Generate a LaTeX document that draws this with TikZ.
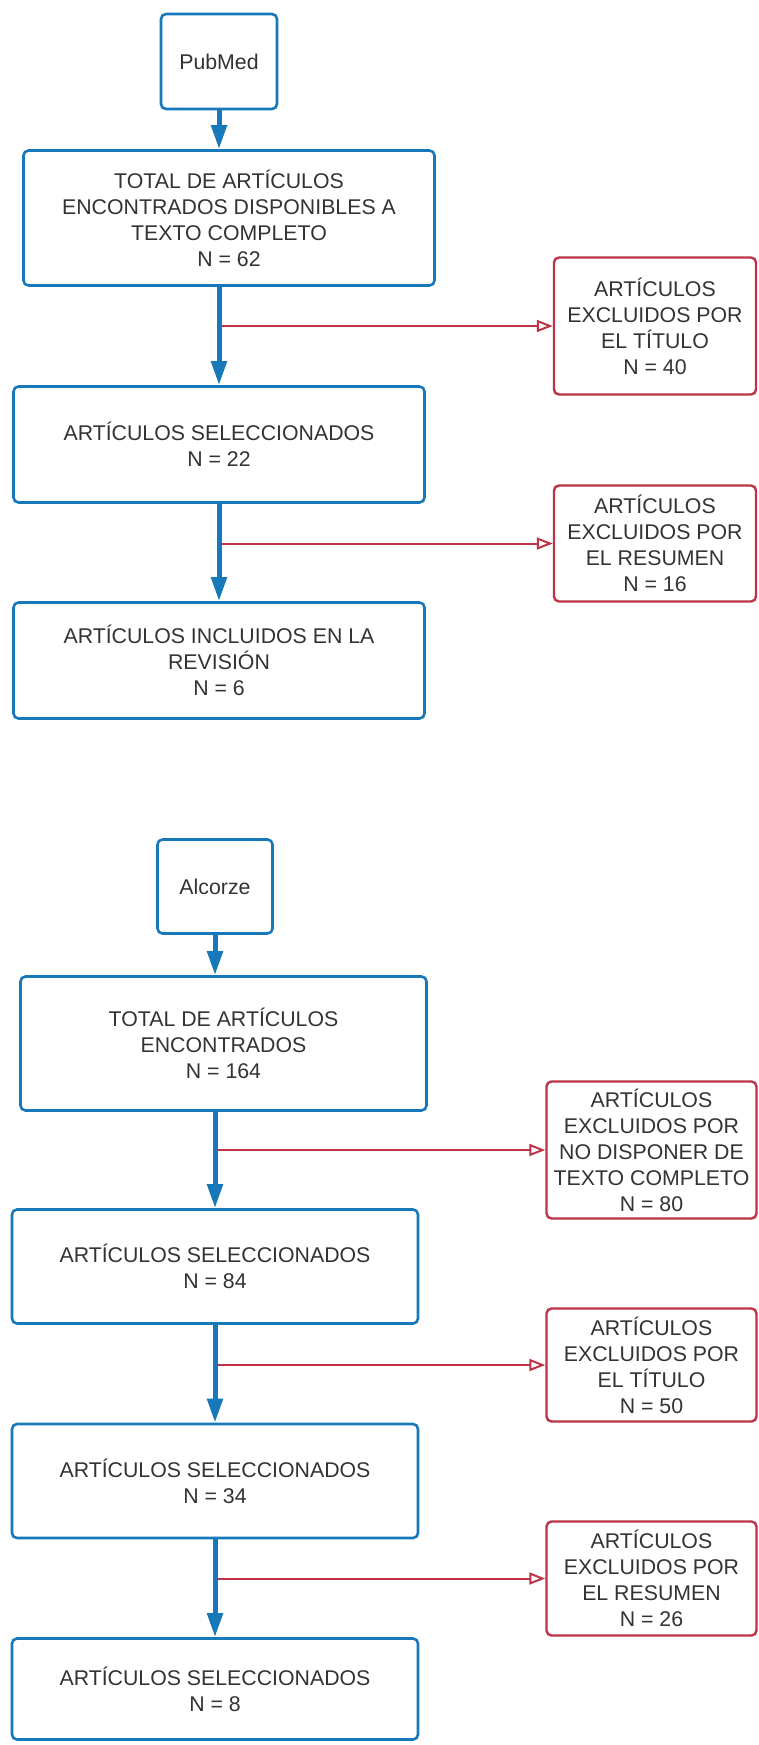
\documentclass[tikz,border=0pt]{standalone}
\usepackage{fontspec}
\setmainfont{Liberation Sans}
\usetikzlibrary{arrows.meta}

\definecolor{flowblue}{RGB}{24,121,186}
\definecolor{flowred}{RGB}{190,52,70}
\definecolor{flowtext}{RGB}{51,51,51}

\begin{document}
\begin{tikzpicture}[x=1pt, y=-1pt, line cap=round,
    font=\fontsize{21.3}{26}\selectfont,
    mainbox/.style={draw=flowblue, line width=2.6pt, rounded corners=5pt, align=center, text=flowtext, inner sep=2pt},
    outbox/.style={draw=flowred, line width=2.4pt, rounded corners=5pt, align=center, text=flowtext, inner sep=2pt},
    flow/.style={flowblue, line width=5pt, -{Triangle[length=24pt, width=15pt]}},
    drop/.style={flowred, line width=2pt, -{Triangle[open, length=16pt, width=12pt]}}]

    \fill[white] (0,0) rectangle (759,1745);
    \useasboundingbox (0,0) rectangle (759,1745);

    % PubMed
    \node[mainbox, minimum width=116pt, minimum height=95pt] (pubmed) at (219,61.5) {PubMed};
    \node[mainbox, minimum width=411pt, minimum height=135pt] (total1) at (229,218) {TOTAL DE ARTÍCULOS\\ENCONTRADOS DISPONIBLES A\\TEXTO COMPLETO\\N = 62};
    \node[outbox, minimum width=202pt, minimum height=137pt] (title1) at (655,326) {ARTÍCULOS\\EXCLUIDOS POR\\EL TÍTULO\\N = 40};
    \node[mainbox, minimum width=411pt, minimum height=116pt] (sel1) at (219,444.5) {ARTÍCULOS SELECCIONADOS\\N = 22};
    \node[outbox, minimum width=202pt, minimum height=116pt] (abstract1) at (655,543.5) {ARTÍCULOS\\EXCLUIDOS POR\\EL RESUMEN\\N = 16};
    \node[mainbox, minimum width=411pt, minimum height=116pt] (incl1) at (219,660.5) {ARTÍCULOS INCLUIDOS EN LA\\REVISIÓN\\N = 6};

    \draw[drop] (sel1.north |- title1.west) -- (title1.west);
    \draw[drop] (sel1.south |- abstract1.west) -- (abstract1.west);
    \draw[flow] (pubmed) -- (pubmed |- total1.north);
    \draw[flow] (sel1.north |- total1.south) -- (sel1.north);
    \draw[flow] (sel1) -- (incl1);

    % Alcorze
    \node[mainbox, minimum width=115pt, minimum height=94pt] (alcorze) at (215,886.5) {Alcorze};
    \node[mainbox, minimum width=406pt, minimum height=134pt] (total2) at (223.5,1043.5) {TOTAL DE ARTÍCULOS\\ENCONTRADOS\\N = 164};
    \node[outbox, minimum width=210pt, minimum height=137pt] (full2) at (651.5,1150) {ARTÍCULOS\\EXCLUIDOS POR\\NO DISPONER DE\\TEXTO COMPLETO\\N = 80};
    \node[mainbox, minimum width=406pt, minimum height=114pt] (sel2) at (215,1266.5) {ARTÍCULOS SELECCIONADOS\\N = 84};
    \node[outbox, minimum width=210pt, minimum height=113pt] (title2) at (651.5,1365) {ARTÍCULOS\\EXCLUIDOS POR\\EL TÍTULO\\N = 50};
    \node[mainbox, minimum width=406pt, minimum height=114pt] (sel3) at (215,1481) {ARTÍCULOS SELECCIONADOS\\N = 34};
    \node[outbox, minimum width=210pt, minimum height=114pt] (abstract2) at (651.5,1578.5) {ARTÍCULOS\\EXCLUIDOS POR\\EL RESUMEN\\N = 26};
    \node[mainbox, minimum width=406pt, minimum height=101pt] (sel4) at (215,1689) {ARTÍCULOS SELECCIONADOS\\N = 8};

    \draw[drop] (sel2.north |- full2.west) -- (full2.west);
    \draw[drop] (sel2.south |- title2.west) -- (title2.west);
    \draw[drop] (sel3.south |- abstract2.west) -- (abstract2.west);
    \draw[flow] (alcorze) -- (alcorze |- total2.north);
    \draw[flow] (sel2.north |- total2.south) -- (sel2.north);
    \draw[flow] (sel2) -- (sel3);
    \draw[flow] (sel3) -- (sel4);

\end{tikzpicture}
\end{document}
